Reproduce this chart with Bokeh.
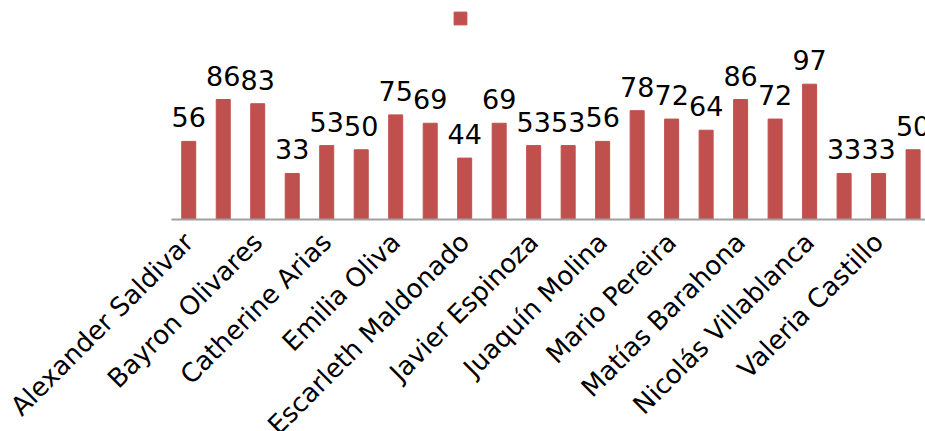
import math
from bokeh.plotting import figure
from bokeh.models import ColumnDataSource, FixedTicker, Legend, LegendItem, Range1d
from bokeh.core.properties import value
from bokeh.embed import file_html
from bokeh.resources import INLINE

values = [56, 86, 83, 33, 53, 50, 75, 69, 44, 69, 53, 53, 56, 78, 72, 64, 86, 72, 97, 33, 33, 50]
tick_labels = ["Alexander Saldivar", "Bayron Olivares", "Catherine Arias", "Emilia Oliva",
               "Escarleth Maldonado", "Javier Espinoza", "Juaquín Molina", "Mario Pereira",
               "Matías Barahona", "Nicolás Villablanca", "Valeria Castillo"]

BAR_COLOR = "#C0504D"
FONT = "DejaVu Sans"

idx = list(range(len(values)))
src = ColumnDataSource(dict(x=idx, top=values, label=[str(v) for v in values]))

p = figure(frame_width=754, frame_height=219, output_backend="svg", toolbar_location=None,
           x_range=Range1d(-0.5, 21.36), y_range=Range1d(0, 157.0),
           min_border_left=171, min_border_right=0, min_border_top=0, min_border_bottom=0)

r = p.vbar(x="x", top="top", width=0.406, bottom=0, source=src, color=BAR_COLOR)
p.text(x="x", y="top", text="label", source=src, text_align="center", text_baseline="alphabetic",
       y_offset=-24, text_font=value(FONT), text_font_size="27px", text_color="black")

legend = Legend(items=[LegendItem(label=" ", renderers=[r])], location=(281, 193),
                glyph_width=16, glyph_height=16, label_height=16, label_width=1,
                padding=0, margin=0, spacing=0, label_standoff=0,
                label_text_font_size="1px", border_line_color=None, background_fill_alpha=0)
p.add_layout(legend, "center")

p.yaxis.visible = False
p.xgrid.visible = False
p.ygrid.visible = False
p.outline_line_color = None

ax = p.xaxis[0]
ax.ticker = FixedTicker(ticks=idx[::2])
ax.major_label_overrides = {i: lab for i, lab in zip(idx[::2], tick_labels)}
ax.major_label_orientation = math.pi / 4
ax.major_label_text_font = FONT
ax.major_label_text_font_size = "26px"
ax.major_label_text_color = "black"
ax.axis_line_color = "#A0A0A0"
ax.axis_line_width = 2
ax.major_tick_line_color = None
ax.minor_tick_line_color = None
ax.major_label_standoff = 12

open("out.html", "w").write(file_html(p, INLINE))
